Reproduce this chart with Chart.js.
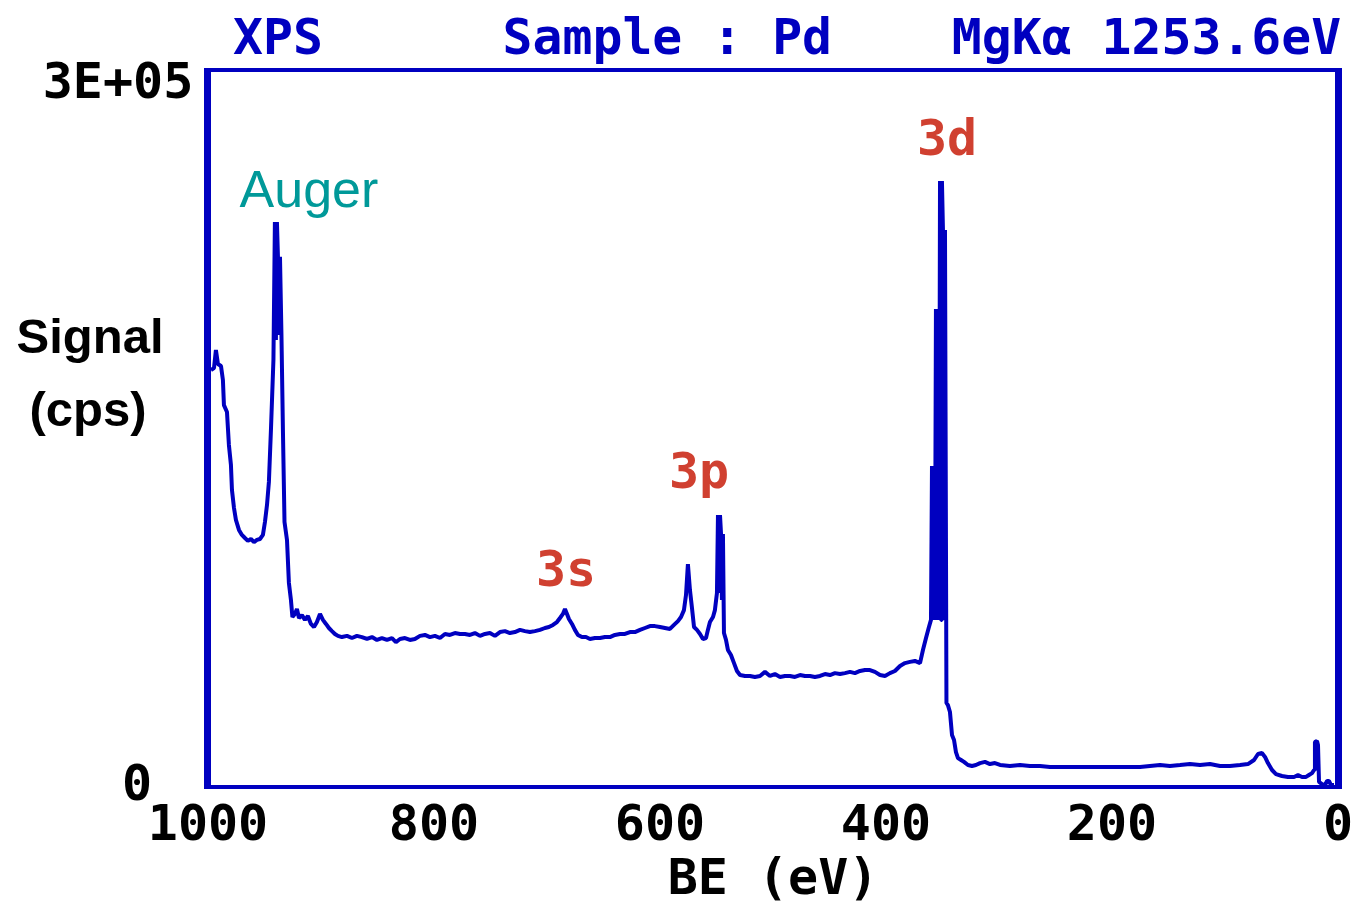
<!DOCTYPE html>
<html>
<head>
<meta charset="utf-8">
<script src="https://cdn.jsdelivr.net/npm/chart.js@4.4.1/dist/chart.umd.min.js"></script>
<style>
  html, body { margin: 0; padding: 0; background: #fff; }
</style>
</head>
<body>
<canvas id="xps" width="1357" height="906"></canvas>
<script>
// Pd survey scan, Mg K-alpha: binding energy (eV) against count rate (cps)
const bindingEnergy = [
  997.4, 994.7, 993.0, 991.2, 988.5, 986.8, 985.9, 983.2, 981.5, 979.7,
  978.8, 977.0, 975.3, 972.6, 970.0, 967.3, 964.7, 962.0, 959.3, 956.7,
  954.0, 951.4, 949.6, 947.8, 946.1, 944.3, 942.1, 940.8, 939.9, 939.0,
  938.1, 937.2, 936.3, 935.0, 933.7, 932.3, 930.1, 928.4, 926.6, 925.3,
  923.1, 921.3, 919.5, 916.9, 914.2, 911.6, 908.9, 906.2, 903.6, 900.9,
  898.3, 895.6, 893.0, 890.3, 887.7, 885.0, 881.5, 877.0, 872.6, 868.2,
  863.8, 859.3, 854.9, 850.5, 846.1, 841.6, 837.2, 833.7, 830.1, 825.7,
  821.3, 816.9, 812.4, 808.0, 803.6, 799.2, 794.7, 790.3, 785.9, 781.5,
  777.0, 772.6, 768.2, 763.8, 759.3, 754.9, 750.5, 746.1, 741.6, 737.2,
  732.8, 728.4, 723.9, 719.5, 715.1, 710.7, 706.2, 701.8, 698.3, 694.7,
  691.2, 688.5, 685.9, 684.1, 682.3, 680.6, 677.9, 675.3, 672.6, 669.1,
  665.5, 662.0, 657.6, 653.1, 648.7, 644.3, 639.9, 635.4, 631.0, 626.6,
  622.2, 617.7, 613.3, 608.9, 604.5, 600.0, 595.6, 591.2, 587.6, 584.1,
  581.4, 578.8, 577.0, 575.3, 573.5, 571.7, 569.9, 567.3, 564.6, 562.0,
  559.3, 557.6, 555.8, 553.1, 551.4, 549.6, 548.7, 547.8, 546.9, 546.0,
  545.2, 544.3, 543.4, 541.6, 539.9, 537.2, 534.5, 531.9, 529.2, 524.8,
  520.4, 516.0, 511.5, 507.1, 502.7, 498.3, 493.8, 489.4, 485.0, 480.6,
  476.1, 471.7, 467.3, 462.9, 458.4, 454.0, 449.6, 445.2, 440.7, 436.3,
  431.9, 427.5, 423.0, 418.6, 414.2, 409.8, 405.3, 400.9, 396.5, 392.1,
  387.6, 383.2, 378.8, 374.4, 369.9, 367.3, 364.6, 362.0, 360.2, 359.3,
  358.4, 357.5, 356.7, 355.8, 354.9, 354.0, 353.1, 352.2, 351.3, 350.5,
  349.6, 348.7, 347.8, 346.5, 345.2, 343.4, 341.6, 339.8, 338.1, 336.3,
  333.6, 331.0, 327.5, 323.9, 320.4, 316.8, 312.4, 308.0, 303.6, 299.1,
  290.3, 281.4, 272.6, 263.7, 254.9, 246.0, 237.2, 228.3, 219.5, 210.6,
  201.8, 192.9, 184.1, 175.2, 166.4, 157.5, 148.7, 139.8, 131.0, 122.1,
  113.3, 104.4, 95.6, 86.7, 79.7, 74.3, 70.8, 67.3, 64.6, 62.0,
  58.4, 54.9, 49.6, 44.3, 38.9, 35.4, 31.9, 28.3, 25.7, 23.0,
  21.2, 20.4, 18.6, 17.7, 16.8, 14.2, 11.5, 9.7, 8.0, 6.2,
  3.5
];

const signal = [
  174300, 175100, 182700, 176800, 176000, 170100, 159600, 156700, 142900, 134500,
  124000, 116500, 111500, 107300, 105200, 103900, 102700, 103500, 102200, 103100,
  103500, 105200, 110600, 117700, 127400, 149200, 178500, 236300, 186900, 236300,
  221700, 189000, 221700, 189000, 149200, 110600, 103100, 85100, 77900, 70800,
  72100, 74200, 70400, 71600, 69600, 71200, 67900, 66600, 68700, 72100,
  69600, 67900, 66200, 64900, 63700, 62900, 62400, 62900, 62000, 62900,
  62400, 61600, 62400, 61200, 62000, 61200, 62000, 60300, 61600, 62000,
  61200, 61600, 62900, 63300, 62400, 62900, 62000, 63700, 63300, 64100,
  63700, 63700, 63300, 64100, 62900, 63700, 64100, 62900, 64500, 64900,
  64100, 64500, 65400, 64900, 64500, 64900, 65400, 66200, 66600, 67500,
  68700, 70400, 72100, 74200, 72100, 70000, 67900, 65400, 63300, 62400,
  62400, 61600, 62000, 62000, 62400, 62400, 63300, 63700, 63700, 64500,
  64500, 65400, 66200, 67000, 67000, 66600, 66200, 65800, 67500, 69100,
  70800, 73700, 80000, 93000, 82100, 74600, 66600, 65400, 63700, 61600,
  62000, 65400, 68700, 70800, 73700, 80900, 113500, 80900, 113500, 105600,
  77900, 105600, 64100, 61200, 57000, 54900, 51500, 48200, 46500, 46100,
  46100, 45700, 46100, 47800, 46100, 46900, 45700, 46100, 46100, 45700,
  46500, 46100, 46100, 45700, 46100, 46900, 46500, 47300, 46900, 47300,
  47800, 47300, 48200, 48600, 48600, 47800, 46500, 46100, 47300, 48200,
  50300, 51500, 52000, 52400, 51500, 57000, 62000, 66600, 69600, 134100,
  69600, 134100, 69600, 199900, 69600, 199900, 69600, 253500, 69600, 253500,
  233000, 69600, 233000, 34800, 33900, 31000, 21400, 19300, 14200, 11700,
  10900, 10100, 8800, 8400, 8800, 9600, 10100, 9200, 9600, 8800,
  8400, 8800, 8400, 8400, 8000, 8000, 8000, 8000, 8000, 8000,
  8000, 8000, 8000, 8000, 8400, 8800, 8400, 8800, 9200, 8800,
  9200, 8400, 8400, 8800, 9200, 10900, 13400, 13800, 12200, 9600,
  6700, 5000, 4200, 3800, 3800, 4600, 3800, 3800, 4600, 5400,
  6700, 18400, 18900, 17200, 1700, 800, 400, 2100, 2100, 400,
  400
];

const energyRange = [0, 1000];
const energyStep = 200;
const signalRange = [0, 300000];
const signalTickLabels = ['0', '3E+05'];

const BLUE = '#0000c0';
const RED = '#d04030';
const TEAL = '#009999';
const MONO = '"DejaVu Sans Mono", monospace';

const headerText = 'XPS      Sample : Pd    MgKα 1253.6eV';

// peak labels, anchored in data space (centre of text, baseline)
const peakLabels = [
  { text: 'Auger', be: 910.7, cps: 242600, color: TEAL, font: '52px "Liberation Sans", Arial, sans-serif' },
  { text: '3s', be: 683.2, cps: 83800, color: RED, font: 'bold 50px ' + MONO },
  { text: '3p', be: 565.5, cps: 124900, color: RED, font: 'bold 50px ' + MONO },
  { text: '3d', be: 346.0, cps: 264400, color: RED, font: 'bold 50px ' + MONO }
];

const points = bindingEnergy.map((be, i) => ({ x: be, y: signal[i] }));

// blue box round the plot, heavier on the vertical sides
const framePlugin = {
  id: 'frame',
  afterDatasetsDraw(chart) {
    const { ctx, chartArea: a } = chart;
    ctx.save();
    ctx.fillStyle = BLUE;
    ctx.fillRect(a.left - 4, a.top - 2, 7, a.bottom - a.top + 4);
    ctx.fillRect(a.right - 3, a.top - 2, 7, a.bottom - a.top + 4);
    ctx.fillRect(a.left - 4, a.top - 2, a.right - a.left + 8, 4);
    ctx.fillRect(a.left - 4, a.bottom - 1, a.right - a.left + 8, 4);
    ctx.restore();
  }
};

const textPlugin = {
  id: 'texts',
  afterDraw(chart) {
    const { ctx } = chart;
    const xs = chart.scales.x;
    const ys = chart.scales.y;
    ctx.save();
    ctx.textBaseline = 'alphabetic';

    // header line
    ctx.font = 'bold 49.75px ' + MONO;
    ctx.fillStyle = BLUE;
    ctx.textAlign = 'left';
    ctx.fillText(headerText, 233, 54);

    // y range labels
    ctx.font = 'bold 50px ' + MONO;
    ctx.fillStyle = '#000';
    ctx.textAlign = 'center';
    ctx.fillText(signalTickLabels[1], 118, ys.getPixelForValue(signalRange[1]) + 28);
    ctx.fillText(signalTickLabels[0], 137, ys.getPixelForValue(signalRange[0]) + 14);

    // y axis title, written flat
    ctx.font = 'bold 49px "Liberation Sans", Arial, sans-serif';
    ctx.fillText('Signal', 90, 353);
    ctx.fillText('(cps)', 88, 426);

    peakLabels.forEach(p => {
      ctx.font = p.font;
      ctx.fillStyle = p.color;
      ctx.fillText(p.text, xs.getPixelForValue(p.be), ys.getPixelForValue(p.cps));
    });
    ctx.restore();
  }
};

new Chart(document.getElementById('xps'), {
  type: 'line',
  data: {
    datasets: [{
      data: points,
      borderColor: BLUE,
      borderWidth: 4,
      borderJoinStyle: 'bevel',
      pointRadius: 0,
      tension: 0,
      fill: false
    }]
  },
  options: {
    responsive: false,
    animation: false,
    events: [],
    layout: { padding: { left: 208, right: 19, top: 70, bottom: 0 } },
    plugins: {
      legend: { display: false },
      tooltip: { enabled: false }
    },
    scales: {
      x: {
        type: 'linear',
        reverse: true,
        min: energyRange[0],
        max: energyRange[1],
        grid: { display: false, drawTicks: false },
        border: { display: false },
        ticks: {
          stepSize: energyStep,
          color: '#000',
          padding: 11,
          maxRotation: 0,
          autoSkip: false,
          callback: v => String(v),
          font: { family: MONO, size: 50, weight: 'bold' }
        },
        title: {
          display: true,
          text: 'BE (eV)',
          color: '#000',
          padding: 0,
          font: { family: MONO, size: 50, weight: 'bold', lineHeight: 1 }
        },
        afterFit(scale) {
          // fixed axis band; end labels may hang past the plot edges
          scale.height = 120;
          scale.paddingLeft = 0;
          scale.paddingRight = 0;
        }
      },
      y: {
        display: false,
        min: signalRange[0],
        max: signalRange[1]
      }
    }
  },
  plugins: [framePlugin, textPlugin]
});
</script>
</body>
</html>
